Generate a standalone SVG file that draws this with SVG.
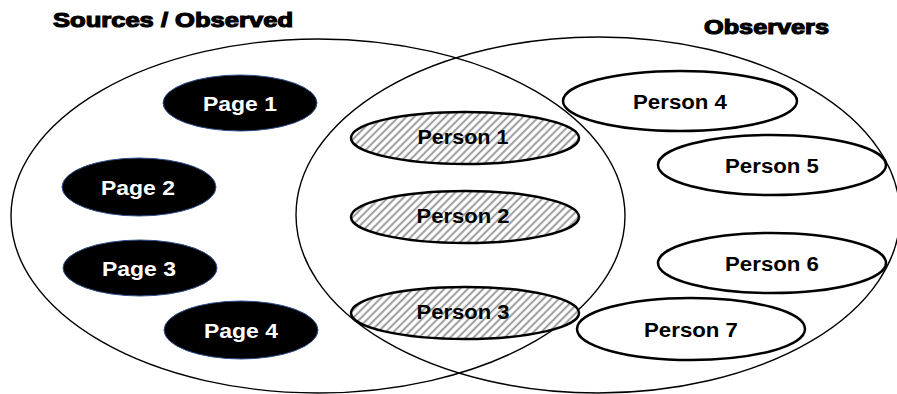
<svg xmlns="http://www.w3.org/2000/svg" width="897" height="394" viewBox="0 0 897 394">
<style>
.big{fill:none;stroke:#000;stroke-width:1.4}
.page{fill:#000;stroke:#2f4f8f;stroke-width:1}
.person{stroke:#000;stroke-width:2.5}
.hatch{fill:url(#hatch)}
.plain{fill:#fff}
.lbl{font-family:"Liberation Sans",Arial,sans-serif;font-weight:bold;font-size:19.5px;text-anchor:middle}
.wl{fill:#fff}
.title{font-family:"Liberation Sans",Arial,sans-serif;font-weight:900;font-size:19.5px;fill:#000;stroke:#000;stroke-width:1.1}
</style>
<defs>
<pattern id="hatch" width="5.5" height="5.5" patternUnits="userSpaceOnUse" patternTransform="rotate(45)">
<rect width="5.5" height="5.5" fill="#fff"/>
<line x1="1.5" y1="0" x2="1.5" y2="5.5" stroke="#8c8c8c" stroke-width="1.7"/>
</pattern>
</defs>
<g id="sets">
<ellipse id="set-sources" class="big" cx="318" cy="216" rx="307" ry="177"/>
<ellipse id="set-observers" class="big" cx="598" cy="215" rx="302" ry="178"/>
</g>
<text class="title" x="53" y="27" textLength="240" lengthAdjust="spacingAndGlyphs">Sources / Observed</text>
<text class="title" x="704" y="34" textLength="125" lengthAdjust="spacingAndGlyphs">Observers</text>
<g id="connectors"></g>
<g id="page1"><ellipse class="page" cx="240" cy="103" rx="77" ry="28"/><text class="lbl wl" x="240" y="111" textLength="74" lengthAdjust="spacingAndGlyphs">Page 1</text></g>
<g id="page2"><ellipse class="page" cx="139" cy="187" rx="77" ry="29"/><text class="lbl wl" x="138" y="195" textLength="74" lengthAdjust="spacingAndGlyphs">Page 2</text></g>
<g id="page3"><ellipse class="page" cx="140" cy="268" rx="77" ry="28"/><text class="lbl wl" x="139" y="276" textLength="74" lengthAdjust="spacingAndGlyphs">Page 3</text></g>
<g id="page4"><ellipse class="page" cx="241" cy="330" rx="77" ry="29"/><text class="lbl wl" x="241" y="338" textLength="74" lengthAdjust="spacingAndGlyphs">Page 4</text></g>
<g id="person1"><ellipse class="person hatch" cx="465" cy="138" rx="114" ry="26"/><text class="lbl" x="463" y="144" textLength="91" lengthAdjust="spacingAndGlyphs">Person 1</text></g>
<g id="person2"><ellipse class="person hatch" cx="465" cy="217" rx="114" ry="26"/><text class="lbl" x="463" y="223" textLength="93" lengthAdjust="spacingAndGlyphs">Person 2</text></g>
<g id="person3"><ellipse class="person hatch" cx="465" cy="313" rx="114" ry="26"/><text class="lbl" x="463" y="319" textLength="93" lengthAdjust="spacingAndGlyphs">Person 3</text></g>
<g id="person4"><ellipse class="person plain" cx="680" cy="101" rx="117" ry="30"/><text class="lbl" x="680" y="109" textLength="94" lengthAdjust="spacingAndGlyphs">Person 4</text></g>
<g id="person5"><ellipse class="person plain" cx="772" cy="165" rx="114" ry="30"/><text class="lbl" x="772" y="173" textLength="94" lengthAdjust="spacingAndGlyphs">Person 5</text></g>
<g id="person6"><ellipse class="person plain" cx="772" cy="263" rx="114" ry="30"/><text class="lbl" x="772" y="271" textLength="94" lengthAdjust="spacingAndGlyphs">Person 6</text></g>
<g id="person7"><ellipse class="person plain" cx="691" cy="329" rx="114" ry="31"/><text class="lbl" x="691" y="337" textLength="94" lengthAdjust="spacingAndGlyphs">Person 7</text></g>
</svg>
